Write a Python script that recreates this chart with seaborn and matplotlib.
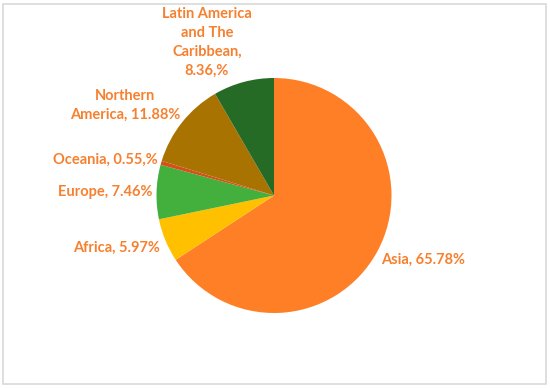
import matplotlib
matplotlib.use("Agg")
import matplotlib.pyplot as plt
from matplotlib.patches import Rectangle
import seaborn as sns

# data (clockwise from 12 o'clock)
regions = ["Asia", "Africa", "Europe", "Oceania", "Northern America",
           "Latin America and The Caribbean"]
shares = [65.78, 5.97, 7.46, 0.55, 11.88, 8.36]
labels = ["Asia, 65.78%", "Africa, 5.97%", "Europe, 7.46%", "Oceania, 0.55,%",
          "Northern\nAmerica, 11.88%", "Latin America\nand The\nCaribbean,\n8.36,%"]
colors = ["#FF7F27", "#FFC000", "#43B03E", "#D4501A", "#A87300", "#256B25"]

sns.set_style("white")
plt.rcParams["font.family"] = ["Lato", "DejaVu Sans"]

W, H, DPI = 550, 388, 100
CX, CY, R = 274, 195.5, 117.5   # pie centre / radius in pixels

fig = plt.figure(figsize=(W / DPI, H / DPI), dpi=DPI)
ax = fig.add_axes([0, 0, 1, 1])

wedges, texts = ax.pie(shares, colors=colors, startangle=90, counterclock=False,
                       radius=1.0, labels=labels, labeldistance=1.2,
                       wedgeprops=dict(linewidth=0),
                       textprops=dict(color="#F7802F", fontsize=10.5,
                                      fontweight="bold", ha="center",
                                      va="center", linespacing=1.45))

# pie() resets the limits, so fix the scale afterwards
ax.set_xlim(-CX / R, (W - CX) / R)
ax.set_ylim(-(H - CY) / R, CY / R)
ax.set_aspect("equal")
ax.axis("off")

# label centres, pixels from the reference
label_px = [(423, 260), (117, 248), (105, 192), (105, 160), (125, 105), (207, 42)]
for t, (px, py) in zip(texts, label_px):
    t.set_position(((px - CX) / R, (CY - py) / R))
    t.set_horizontalalignment("center")

# light frame around the whole chart
fig.patches.append(Rectangle((3 / W, 4 / H), 543 / W, 380 / H, transform=fig.transFigure,
                             fill=False, edgecolor="#D9D9D9", linewidth=1.2))

fig.savefig("out.png", dpi=DPI)
